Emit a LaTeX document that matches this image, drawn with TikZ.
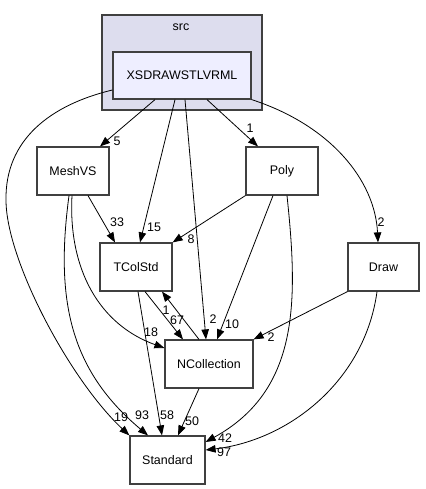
\documentclass[tikz,border=0pt]{standalone}
\usepackage{fontspec}
\setmainfont{Liberation Sans}
\usetikzlibrary{arrows.meta,calc}
\definecolor{clfill}{HTML}{DDDDEE}
\definecolor{xfill}{HTML}{EEEEFF}
\definecolor{bord}{HTML}{404040}
\begin{document}
\begin{tikzpicture}[x=1bp,y=-1bp,
  box/.style={draw=bord,line width=1.2bp,fill=white,minimum height=48bp,inner sep=0pt,font=\fontsize{12.5}{14}\selectfont},
  edge/.style={draw=black,line width=0.8bp,-{Triangle[length=10bp,width=7.5bp]}},
  lbl/.style={inner sep=0pt,font=\fontsize{12.5}{14}\selectfont}]
\useasboundingbox (0,0) rectangle (425,489);
% cluster
\draw[draw=bord,line width=1.2bp,fill=clfill] (102,15) rectangle (262,110);
\node[lbl] (srclbl) at (181,27) {src};
% nodes
\node[box,fill=xfill,minimum width=138bp,minimum height=47bp] (xsd) at (182,75.5) {XSDRAWSTLVRML};
\node[box,minimum width=72bp] (mesh) at (73,171) {MeshVS};
\node[box,minimum width=72bp] (poly) at (282,171) {Poly};
\node[box,minimum width=72bp] (tcol) at (136,267) {TColStd};
\node[box,minimum width=71bp] (draw) at (383.5,267) {Draw};
\node[box,minimum width=88bp] (ncol) at (209,364) {NCollection};
\node[box,minimum width=75bp] (std) at (167.5,460) {Standard};
% edges from XSDRAWSTLVRML
\draw[edge] ($(xsd.south)+(-27,0)$) -- ($(mesh.north)+(27,0)$) node[lbl,at={(117,141)}] {5};
\draw[edge] ($(xsd.south)+(-7,0)$) -- ($(tcol.north)+(4,0)$) node[lbl,at={(154,227)}] {15};
\draw[edge] ($(xsd.south)+(3,0)$) -- ($(ncol.north)+(-3,0)$) node[lbl,at={(213,319)}] {2};
\draw[edge] ($(xsd.south)+(25,0)$) -- ($(poly.north)+(-24,0)$) node[lbl,at={(250,128)}] {1};
\draw[edge] (xsd.south east) .. controls (330,125) and (375,180) .. ($(draw.north)+(-5.5,0)$) node[lbl,at={(381,222)}] {2};
\draw[edge] ($(xsd.west)+(0,14.5)$) .. controls (50,105) and (5,140) .. (6,200) .. controls (6,260) and (70,380) .. (std.north west) node[lbl,at={(121,417)}] {19};
% MeshVS
\draw[edge] ($(mesh.south)+(15,0)$) -- ($(tcol.north)+(-21,0)$) node[lbl,at={(117,222)}] {33};
\draw[edge] ($(mesh.south)+(-4,0)$) .. controls (55,300) and (70,370) .. ($(std.north)+(-19.5,0)$) node[lbl,at={(142,415)}] {93};
\draw[edge] ($(mesh.south)+(-1,0)$) .. controls (68,270) and (100,325) .. ($(ncol.west)+(0,-16)$) node[lbl,at={(151,332)}] {18};
% Poly
\draw[edge] (poly.south west) -- (tcol.north east) node[lbl,at={(191,239)}] {8};
\draw[edge] ($(poly.south)+(-9,0)$) -- ($(ncol.north)+(8,0)$) node[lbl,at={(232,324)}] {10};
\draw[edge] ($(poly.south)+(5,0)$) .. controls (298,300) and (300,390) .. ($(std.east)+(0,-18)$) node[lbl,at={(225,438)}] {42};
% TColStd
\draw[edge] ($(tcol.south)+(9,0)$) -- ($(ncol.north)+(-26,0)$) node[lbl,at={(177,320)}] {67};
\draw[edge] ($(ncol.north)+(-10,0)$) -- ($(tcol.south)+(26,0)$) node[lbl,at={(166,310)}] {1};
\draw[edge] ($(tcol.south)+(2,0)$) -- ($(std.north)+(-5.5,0)$) node[lbl,at={(167,415)}] {58};
% Draw
\draw[edge] (draw.south west) -- (ncol.north east) node[lbl,at={(271,337)}] {2};
\draw[edge] ($(draw.south)+(-6.5,0)$) .. controls (365,380) and (290,440) .. ($(std.east)+(0,-10)$) node[lbl,at={(224,452)}] {97};
% NCollection
\draw[edge] ($(ncol.south)+(-10,0)$) -- ($(std.north)+(10.5,0)$) node[lbl,at={(192,421)}] {50};
\end{tikzpicture}
\end{document}
